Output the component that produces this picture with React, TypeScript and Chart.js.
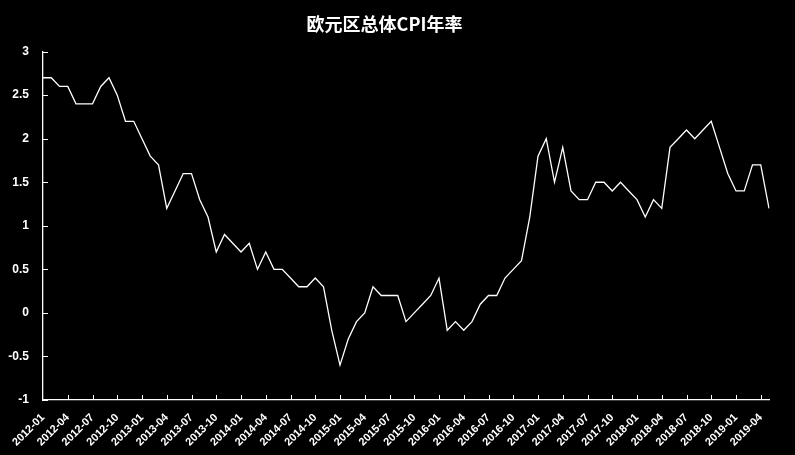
import React, { useEffect, useRef } from "react";
import { Chart, registerables } from "chart.js";

Chart.register(...registerables);

const TITLE = "欧元区总体CPI年率";

function buildMonths(startYear: number, startMonth: number, count: number): string[] {
  const out: string[] = [];
  let y = startYear;
  let m = startMonth;
  for (let i = 0; i < count; i++) {
    out.push(`${y}-${m < 10 ? "0" + m : m}`);
    m++;
    if (m > 12) {
      m = 1;
      y++;
    }
  }
  return out;
}

const CPI_VALUES: number[] = [
  // 2012
  2.7, 2.7, 2.6, 2.6, 2.4, 2.4, 2.4, 2.6, 2.7, 2.5, 2.2, 2.2,
  // 2013
  2.0, 1.8, 1.7, 1.2, 1.4, 1.6, 1.6, 1.3, 1.1, 0.7, 0.9, 0.8,
  // 2014
  0.7, 0.8, 0.5, 0.7, 0.5, 0.5, 0.4, 0.3, 0.3, 0.4, 0.3, -0.2,
  // 2015
  -0.6, -0.3, -0.1, 0.0, 0.3, 0.2, 0.2, 0.2, -0.1, 0.0, 0.1, 0.2,
  // 2016
  0.4, -0.2, -0.1, -0.2, -0.1, 0.1, 0.2, 0.2, 0.4, 0.5, 0.6, 1.1,
  // 2017
  1.8, 2.0, 1.5, 1.9, 1.4, 1.3, 1.3, 1.5, 1.5, 1.4, 1.5, 1.4,
  // 2018
  1.3, 1.1, 1.3, 1.2, 1.9, 2.0, 2.1, 2.0, 2.1, 2.2, 1.9, 1.6,
  // 2019
  1.4, 1.4, 1.7, 1.7, 1.2,
];

const MONTHS: string[] = buildMonths(2012, 1, CPI_VALUES.length);

const Y_MIN = -1;
const Y_MAX = 3;
const Y_STEP = 0.5;
const LABEL_EVERY = 3;

const innerTicks = {
  id: "innerTicks",
  afterDraw(chart: any) {
    const ctx = chart.ctx;
    const xs = chart.scales.x;
    const ys = chart.scales.y;
    const area = chart.chartArea;
    ctx.save();
    ctx.strokeStyle = "#ffffff";
    ctx.lineWidth = 1;
    ctx.beginPath();
    for (let i = LABEL_EVERY; i < MONTHS.length; i += LABEL_EVERY) {
      const px = Math.round(xs.getPixelForValue(i)) + 0.5;
      ctx.moveTo(px, area.bottom);
      ctx.lineTo(px, area.bottom - 5);
    }
    for (let v = Y_MIN; v <= Y_MAX + 1e-9; v += Y_STEP) {
      const py = Math.round(ys.getPixelForValue(v)) + 0.5;
      ctx.moveTo(area.left, py);
      ctx.lineTo(area.left + 5, py);
    }
    ctx.stroke();
    ctx.restore();
  },
};

export default function App() {
  const ref = useRef<HTMLCanvasElement | null>(null);

  useEffect(() => {
    if (!ref.current) return;
    const chart = new Chart(ref.current, {
      type: "line",
      data: {
        labels: MONTHS,
        datasets: [
          {
            label: TITLE,
            data: CPI_VALUES,
            borderColor: "#ffffff",
            borderWidth: 1.3,
            pointRadius: 0,
            tension: 0,
            fill: false,
          },
        ],
      },
      options: {
        animation: false,
        responsive: true,
        maintainAspectRatio: false,
        layout: { padding: { left: 0, right: 26, top: 0, bottom: 0 } },
        plugins: {
          legend: { display: false },
          tooltip: { enabled: false },
          title: {
            display: true,
            text: TITLE,
            color: "#ffffff",
            font: { family: "'Noto Sans CJK SC', sans-serif", size: 18, weight: "bold" },
            padding: { top: 13, bottom: 17 },
          },
        },
        scales: {
          x: {
            type: "category",
            offset: false,
            grid: { display: false },
            border: { display: true, color: "#ffffff", width: 1.3 },
            ticks: {
              color: "#ffffff",
              font: { family: "'Liberation Sans', Arial, sans-serif", size: 11, weight: "bold" },
              autoSkip: false,
              minRotation: 45,
              maxRotation: 45,
              padding: 3,
              callback: (_v: any, idx: number) => (idx % LABEL_EVERY === 0 ? MONTHS[idx] : ""),
            },
            afterFit: (s: any) => {
              s.height = 55;
            },
          },
          y: {
            min: Y_MIN,
            max: Y_MAX,
            grid: { display: false },
            border: { display: true, color: "#ffffff", width: 1.3 },
            ticks: {
              stepSize: Y_STEP,
              color: "#ffffff",
              font: { family: "'Liberation Sans', Arial, sans-serif", size: 12, weight: "bold" },
              padding: 6,
              callback: (v: any) => String(Math.round(Number(v) * 10) / 10),
            },
            afterFit: (s: any) => {
              s.width = 43;
            },
          },
        },
      },
      plugins: [innerTicks],
    });
    return () => chart.destroy();
  }, []);

  return (
    <div
      style={{
        position: "fixed",
        left: 0,
        top: 0,
        width: 795,
        height: 455,
        background: "#000000",
      }}
    >
      <canvas ref={ref} />
    </div>
  );
}
